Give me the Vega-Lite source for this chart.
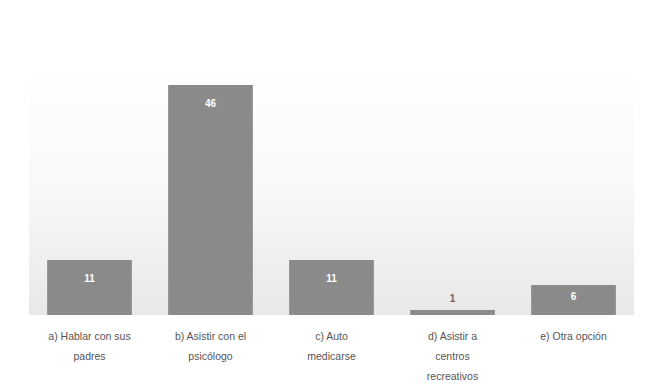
{
  "$schema": "https://vega.github.io/schema/vega-lite/v6.json",
  "width": 605,
  "height": 250,
  "autosize": {"type": "none"},
  "padding": {"left": 29, "top": 65, "right": 20, "bottom": 77},
  "background": "#ffffff",
  "config": {
    "view": {
      "stroke": null,
      "fill": {
        "gradient": "linear",
        "x1": 0, "y1": 0, "x2": 0, "y2": 1,
        "stops": [
          {"offset": 0, "color": "#ffffff"},
          {"offset": 0.5, "color": "#f8f8f8"},
          {"offset": 1, "color": "#e8e8e8"}
        ]
      }
    },
    "font": "Liberation Sans"
  },
  "data": {
    "values": [
      {"opcion": "a) Hablar con sus\npadres", "n": 11},
      {"opcion": "b) Asistir con el\npsicólogo", "n": 46},
      {"opcion": "c) Auto\nmedicarse", "n": 11},
      {"opcion": "d) Asistir a\ncentros\nrecreativos", "n": 1},
      {"opcion": "e) Otra opción", "n": 6}
    ]
  },
  "encoding": {
    "x": {
      "field": "opcion",
      "type": "nominal",
      "sort": null,
      "scale": {"paddingInner": 0.3, "paddingOuter": 0.15},
      "axis": {
        "title": null,
        "domain": false,
        "ticks": false,
        "labelAngle": 0,
        "labelPadding": 16,
        "labelFontSize": 10.5,
        "labelColor": "#555555",
        "labelLineHeight": 20,
        "labelLimit": 200,
        "labelExpr": "split(datum.label, '\\n')"
      }
    },
    "y": {
      "field": "n",
      "type": "quantitative",
      "scale": {"domain": [0, 50]},
      "axis": null
    }
  },
  "layer": [
    {"mark": {"type": "bar", "color": "#8a8a8a"}},
    {
      "transform": [{"filter": "datum.n >= 10"}],
      "mark": {"type": "text", "baseline": "top", "dy": 14, "color": "#ffffff", "fontWeight": "bold", "fontSize": 10},
      "encoding": {"text": {"field": "n"}}
    },
    {
      "transform": [{"filter": "datum.n >= 3 && datum.n < 10"}],
      "mark": {"type": "text", "baseline": "top", "dy": 7, "color": "#ffffff", "fontWeight": "bold", "fontSize": 10},
      "encoding": {"text": {"field": "n"}}
    },
    {
      "transform": [{"filter": "datum.n < 3"}],
      "mark": {"type": "text", "baseline": "bottom", "dy": -6, "color": "#666666", "fontWeight": "bold", "fontSize": 10},
      "encoding": {"text": {"field": "n"}}
    }
  ]
}
